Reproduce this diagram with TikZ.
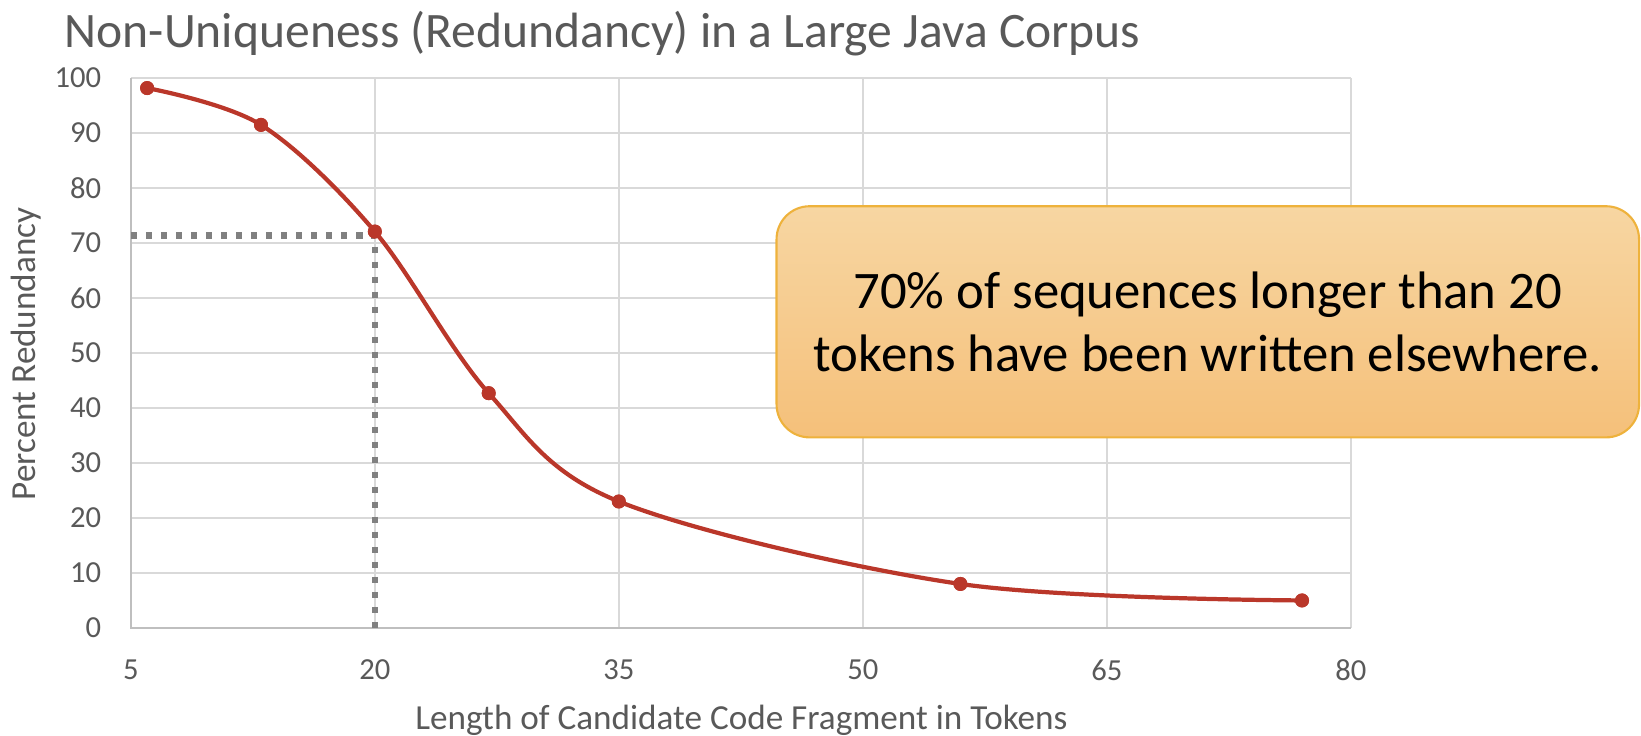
\documentclass[tikz,border=0pt]{standalone}
\usepackage{fontspec}
\setmainfont{Carlito}
\usetikzlibrary{calc, positioning}
\definecolor{labelgray}{RGB}{89,89,89}
\definecolor{gridgray}{RGB}{217,217,217}
\definecolor{axisgray}{RGB}{191,191,191}
\definecolor{guidegray}{RGB}{128,128,128}
\definecolor{seriesred}{RGB}{186,55,42}
\definecolor{notetop}{RGB}{247,214,162}
\definecolor{notebottom}{RGB}{245,192,122}
\definecolor{noteborder}{RGB}{238,178,60}
\tikzset{
  ticklabel/.style={text=labelgray, inner sep=0pt, font=\fontsize{8.7}{10}\selectfont},
  axislabel/.style={text=labelgray, inner sep=0pt, font=\fontsize{10}{12}\selectfont},
  series/.style={seriesred, line width=1.2pt},
  dot/.style={circle, fill=seriesred, inner sep=0pt, minimum size=0.14cm},
  guide/.style={guidegray, line width=0.065cm, dash pattern=on 0.065cm off 0.085cm},
  notebox/.style={draw=noteborder, line width=0.6pt, rounded corners=0.33cm,
    top color=notetop, bottom color=notebottom, align=center,
    minimum width=8.62cm, minimum height=2.31cm,
    font=\fontsize{15}{18}\selectfont}
}
\begin{document}
\begin{tikzpicture}[x=0.01cm, y=0.01cm]
  \useasboundingbox (0,0) rectangle (1641,735);
  % Title
  \node[anchor=base west, inner sep=0pt, text=labelgray, font=\fontsize{14.1}{16}\selectfont] (title) at (64,688) {Non-Uniqueness (Redundancy) in a Large Java Corpus};
  % Plot area (data coordinates)
  \begin{scope}[shift={(0.495cm,1.07cm)}, x=0.16257cm, y=0.05495cm]
    % Grid
    \begin{scope}[shift={(5,0)}]
      \draw[gridgray, line width=0.5pt, xstep=15, ystep=10] (0,0) grid (75,100);
    \end{scope}
    \draw[axisgray, line width=0.7pt] (5,100) -- (5,0) -- (80,0);
    % Tick labels
    \foreach \y in {0,10,...,100}
      \node[ticklabel, anchor=east] (y\y) at ([xshift=-0.29cm]5,\y) {\y};
    \foreach \x in {5,20,...,80}
      \node[ticklabel] (x\x) at ([yshift=-0.42cm]\x,0) {\x};
    % Guide at 20 tokens
    \coordinate (hit) at (20,71.4);
    \draw[guide] (5,71.4) -- (hit) -- (20,0);
    % Measured points
    \node[dot] (p1) at (6,98.2) {};
    \node[dot] (p2) at (13,91.5) {};
    \node[dot] (p3) at (20,72.1) {};
    \node[dot] (p4) at (27,42.7) {};
    \node[dot] (p5) at (35,23.0) {};
    \node[dot] (p6) at (56,8.0) {};
    \node[dot] (p7) at (77,5.0) {};
    % Smoothed curve
    \draw[series] plot[smooth, tension=0.55] coordinates {(p1.center) (p2.center) (p3.center) (p4.center) (p5.center) (p6.center) (p7.center)};
    \node[dot] at (p1) {};
    \node[dot] at (p2) {};
    \node[dot] at (p3) {};
    \node[dot] at (p4) {};
    \node[dot] at (p5) {};
    \node[dot] at (p6) {};
    \node[dot] at (p7) {};
  \end{scope}
  % Axis titles
  \node[axislabel, anchor=base] (xtitle) at (741.5,6) {Length of Candidate Code Fragment in Tokens};
  \node[axislabel, rotate=90] (ytitle) at (26,381) {Percent Redundancy};
  % Callout
  \node[notebox] (note) at (1207.8,413.2) {70\% of sequences longer than 20\\tokens have been written elsewhere.};
\end{tikzpicture}
\end{document}
